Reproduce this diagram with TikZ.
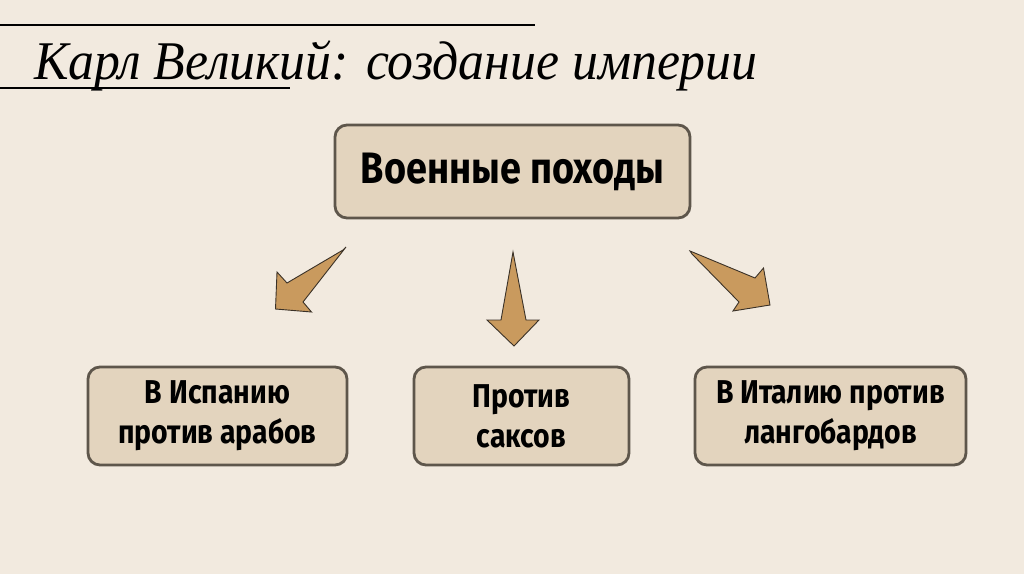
\documentclass[tikz,border=0pt]{standalone}
\usepackage{fontspec}
\setmainfont{Fira Sans}[FakeStretch=0.86]
\newfontfamily\titlefont{Liberation Serif}[FakeStretch=0.95]
\definecolor{bgc}{HTML}{F2EADF}
\definecolor{boxfill}{HTML}{E3D4BE}
\definecolor{boxline}{HTML}{5E564B}
\definecolor{arrowfill}{HTML}{C99A5E}
\definecolor{arrowline}{HTML}{3A3127}
\tikzset{
  box/.style={draw=boxline, line width=2.8pt, fill=boxfill, rounded corners=12pt,
    align=center, inner sep=0pt, font=\fontsize{33}{40}\selectfont\bfseries},
  blockarrow/.style={draw=arrowline, line width=0.9pt, fill=arrowfill, line join=miter},
  rule/.style={draw=black, line width=1.3pt}
}
\begin{document}
\begin{tikzpicture}[x=1pt,y=-1pt]
\fill[bgc] (0,0) rectangle (1024,574);
\useasboundingbox (0,0) rectangle (1024,574);
% title
\coordinate (r1a) at (0,25); \coordinate (r1b) at (535,25);
\coordinate (r2a) at (0,88); \coordinate (r2b) at (290,88);
\draw[rule] (r1a) -- (r1b);
\draw[rule] (r2a) -- (r2b);
\node[anchor=base west, inner sep=0pt, font=\titlefont\itshape\fontsize{54.5}{60}\selectfont] (title) at (34,79) {Карл Великий: создание империи};
% boxes
\node[box, minimum width=355pt, minimum height=93pt, font=\fontsize{44}{50}\selectfont\bfseries] (top) at (512.5,171.5) {Военные походы};
\node[box, minimum width=259pt, minimum height=98pt] (left) at (217.5,416) {В Испанию\\против арабов};
\node[box, minimum width=215pt, minimum height=98pt] (mid) at (521.5,416) {Против\\саксов};
\node[box, minimum width=271pt, minimum height=98pt] (right) at (830.5,416) {В Италию против\\лангобардов};
% block arrows
\draw[blockarrow] (346,247) -- (303,302) -- (311.5,312) -- (275.5,309) -- (277,272) -- (287,283) -- (343,250) -- cycle;
\draw[blockarrow] (513,252) -- (526,320) -- (539,320) -- (514,346) -- (487,320) -- (501,320) -- cycle;
\draw[blockarrow] (690,251) -- (755,278) -- (763.5,268) -- (770,305) -- (733,311) -- (739,302) -- (692,254) -- cycle;
\end{tikzpicture}
\end{document}
